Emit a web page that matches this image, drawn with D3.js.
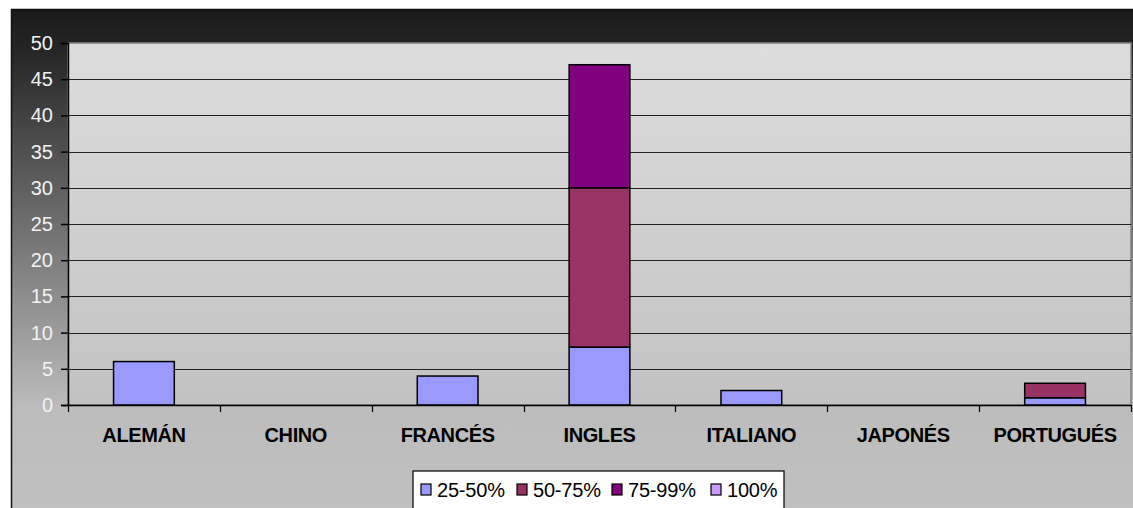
<!DOCTYPE html>
<html>
<head>
<meta charset="utf-8">
<script src="https://cdn.jsdelivr.net/npm/d3@7/dist/d3.min.js"></script>
<style>
  html, body { margin: 0; padding: 0; background: #ffffff; }
  svg { display: block; font-family: "Liberation Sans", Arial, sans-serif; }
</style>
</head>
<body>
<svg id="chart" width="1133" height="508"></svg>
<script>
// Languages and the share of students at each proficiency band
const categories = ["ALEMÁN", "CHINO", "FRANCÉS", "INGLES", "ITALIANO", "JAPONÉS", "PORTUGUÉS"];
const seriesNames = ["25-50%", "50-75%", "75-99%", "100%"];
const s25_50 = [6, 0, 4, 8, 2, 0, 1];
const s50_75 = [0, 0, 0, 22, 0, 0, 2];
const s75_99 = [0, 0, 0, 17, 0, 0, 0];
const s100   = [0, 0, 0, 0, 0, 0, 0];
const yTicks = [0, 5, 10, 15, 20, 25, 30, 35, 40, 45, 50];
const colors = ["#9999FF", "#993366", "#800080", "#CC99FF"];

const svg = d3.select("#chart");
const W = 1133, H = 508;
const frame = { x: 11, y: 9 };
const plot = { left: 68, right: 1131, top: 43, bottom: 405 };

const defs = svg.append("defs");
const outerGrad = defs.append("linearGradient")
  .attr("id", "outerGrad").attr("x1", 0).attr("y1", 0).attr("x2", 0).attr("y2", 1);
outerGrad.append("stop").attr("offset", "0%").attr("stop-color", "#1a1a1a");
outerGrad.append("stop").attr("offset", "8%").attr("stop-color", "#252525");
outerGrad.append("stop").attr("offset", "80%").attr("stop-color", "#bcbcbc");
outerGrad.append("stop").attr("offset", "100%").attr("stop-color", "#c0c0c0");

const plotGrad = defs.append("linearGradient")
  .attr("id", "plotGrad").attr("x1", 0).attr("y1", 0).attr("x2", 0).attr("y2", 1);
plotGrad.append("stop").attr("offset", "0%").attr("stop-color", "#dddddd");
plotGrad.append("stop").attr("offset", "100%").attr("stop-color", "#c2c2c2");

// Chart frame
svg.append("rect")
  .attr("x", frame.x).attr("y", frame.y)
  .attr("width", W - frame.x).attr("height", H - frame.y)
  .attr("fill", "url(#outerGrad)");
svg.append("line")
  .attr("x1", frame.x + 0.5).attr("x2", frame.x + 0.5)
  .attr("y1", frame.y).attr("y2", H)
  .attr("stroke", "#111").attr("stroke-width", 1.5);
svg.append("line")
  .attr("x1", frame.x).attr("x2", W)
  .attr("y1", frame.y + 0.5).attr("y2", frame.y + 0.5)
  .attr("stroke", "#0e0e0e").attr("stroke-width", 1.5);

// Plot area
svg.append("rect")
  .attr("x", plot.left).attr("y", plot.top)
  .attr("width", plot.right - plot.left).attr("height", plot.bottom - plot.top)
  .attr("fill", "url(#plotGrad)")
  .attr("stroke", "#808080").attr("stroke-width", 1.5);

const x = d3.scaleBand()
  .domain(categories)
  .range([plot.left, plot.right])
  .paddingInner(0.6).paddingOuter(0.3);
const xOuter = d3.scaleBand().domain(categories).range([plot.left, plot.right]);

const y = d3.scaleLinear().domain([0, 50]).range([plot.bottom, plot.top]);

// Horizontal gridlines
svg.append("g").selectAll("line")
  .data(yTicks.filter(t => t > 0 && t < 50))
  .join("line")
  .attr("x1", plot.left).attr("x2", plot.right)
  .attr("y1", d => Math.round(y(d)) + 0.5).attr("y2", d => Math.round(y(d)) + 0.5)
  .attr("stroke", "#222").attr("stroke-width", 1.2);

// Stacked bars
const rows = categories.map((c, i) => ({
  cat: c, "25-50%": s25_50[i], "50-75%": s50_75[i], "75-99%": s75_99[i], "100%": s100[i]
}));
const stacked = d3.stack().keys(seriesNames)(rows);

svg.append("g").selectAll("g")
  .data(stacked)
  .join("g")
  .attr("fill", (d, i) => colors[i])
  .selectAll("rect")
  .data(d => d.filter(p => p[1] - p[0] > 0))
  .join("rect")
  .attr("x", d => x(d.data.cat))
  .attr("width", x.bandwidth())
  .attr("y", d => y(d[1]))
  .attr("height", d => y(d[0]) - y(d[1]))
  .attr("stroke", "#000").attr("stroke-width", 1.5);

// Y axis
const yAxis = svg.append("g")
  .attr("transform", `translate(${plot.left},0)`)
  .call(d3.axisLeft(y).tickValues(yTicks).tickSize(7).tickPadding(8));
yAxis.select(".domain").attr("stroke", "#000").attr("stroke-width", 1.5);
yAxis.selectAll(".tick line").attr("stroke", "#000").attr("stroke-width", 1.5);
yAxis.selectAll(".tick text")
  .attr("fill", "#f2f2f2")
  .attr("font-size", 20)
  .attr("letter-spacing", "0px")
  .attr("font-family", "'Liberation Sans', Arial, sans-serif");

// X axis
const xAxis = svg.append("g")
  .attr("transform", `translate(0,${plot.bottom})`)
  .call(d3.axisBottom(xOuter).tickSize(0).tickPadding(23));
xAxis.select(".domain").attr("stroke", "#000").attr("stroke-width", 1.5);
xAxis.selectAll(".tick text")
  .attr("fill", "#000")
  .attr("font-size", 20)
  .attr("font-weight", "bold")
  .attr("letter-spacing", "-0.4px")
  .attr("font-family", "'Liberation Sans', Arial, sans-serif");

// Category separator ticks
const boundaries = categories.map(c => xOuter(c)).concat([plot.right]);
svg.append("g").selectAll("line")
  .data(boundaries)
  .join("line")
  .attr("x1", d => Math.round(d) + 0.5).attr("x2", d => Math.round(d) + 0.5)
  .attr("y1", plot.bottom).attr("y2", plot.bottom + 7)
  .attr("stroke", "#000").attr("stroke-width", 1.2);

// Legend
const legend = svg.append("g").attr("transform", "translate(413,471)");
legend.append("rect")
  .attr("x", 0).attr("y", 0).attr("width", 371).attr("height", 40)
  .attr("fill", "#ffffff").attr("stroke", "#000").attr("stroke-width", 1.2);
const legendX = [8, 104, 199, 298];
const items = legend.selectAll("g.item")
  .data(seriesNames)
  .join("g")
  .attr("class", "item")
  .attr("transform", (d, i) => `translate(${legendX[i]},0)`);
items.append("rect")
  .attr("x", 0).attr("y", 13).attr("width", 10).attr("height", 11)
  .attr("fill", (d, i) => colors[i])
  .attr("stroke", "#000").attr("stroke-width", 1.2);
items.append("text")
  .attr("x", 16).attr("y", 26)
  .attr("font-size", 20)
  .attr("letter-spacing", "-0.2px")
  .attr("fill", "#000")
  .text(d => d);
</script>
</body>
</html>
